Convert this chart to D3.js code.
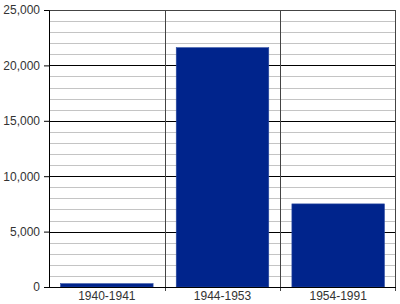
<!DOCTYPE html>
<html>
<head>
<meta charset="utf-8">
<script src="https://cdn.jsdelivr.net/npm/d3@7"></script>
<style>
  body { margin: 0; background: #fff; }
  svg text { font-family: "Liberation Sans", Arial, sans-serif; font-size: 12px; fill: #333; }
</style>
</head>
<body>
<div id="chart"></div>
<script>
var periods = ['1940-1941', '1944-1953', '1954-1991'];
var counts = [300, 21600, 7500];
var yMajorTicks = [0, 5000, 10000, 15000, 20000, 25000];
var yMinorTicks = d3.range(0, 25001, 1000);

var m = { top: 10, right: 4, bottom: 17, left: 49 };
var w = 400, h = 304;
var iw = w - m.left - m.right;
var ih = h - m.top - m.bottom;

var svg = d3.select('#chart').append('svg')
  .attr('width', w)
  .attr('height', h);

var g = svg.append('g')
  .attr('transform', 'translate(' + m.left + ',' + m.top + ')');

var x = d3.scaleBand().domain(periods).range([0, iw]).paddingInner(0.2).paddingOuter(0.1);
var y = d3.scaleLinear().domain([0, 25000]).range([ih, 0]);

// minor grid
g.selectAll('.minor')
  .data(yMinorTicks.filter(function(d) { return d % 5000 !== 0; }))
  .enter().append('line')
  .attr('x1', 0).attr('x2', iw)
  .attr('y1', function(d) { return Math.round(y(d)) + 0.5; })
  .attr('y2', function(d) { return Math.round(y(d)) + 0.5; })
  .attr('stroke', '#c4c4c4');

// major grid
g.selectAll('.major')
  .data(yMajorTicks.slice(1, -1))
  .enter().append('line')
  .attr('x1', 0).attr('x2', iw)
  .attr('y1', function(d) { return Math.round(y(d)) + 0.5; })
  .attr('y2', function(d) { return Math.round(y(d)) + 0.5; })
  .attr('stroke', '#000');

// category separators
var step = x.step();
g.selectAll('.sep')
  .data(periods.slice(1))
  .enter().append('line')
  .attr('x1', function(d) { return Math.round(x(d) - step * x.paddingInner() / 2) + 0.5; })
  .attr('x2', function(d) { return Math.round(x(d) - step * x.paddingInner() / 2) + 0.5; })
  .attr('y1', 0).attr('y2', ih + 4)
  .attr('stroke', '#444');

// frame top & right
g.append('line').attr('x1', 0).attr('x2', iw).attr('y1', 0.5).attr('y2', 0.5).attr('stroke', '#444');
g.append('line').attr('x1', iw - 0.5).attr('x2', iw - 0.5).attr('y1', 0).attr('y2', ih + 4).attr('stroke', '#444');

// bars
g.selectAll('.bar')
  .data(counts)
  .enter().append('rect')
  .attr('x', function(d, i) { return x(periods[i]); })
  .attr('width', x.bandwidth())
  .attr('y', function(d) { return y(d); })
  .attr('height', function(d) { return ih - y(d); })
  .attr('fill', '#00248c')
  .attr('stroke', '#2a4aa0')
  .attr('stroke-width', 0.6);

// y axis
var yAxis = g.append('g')
  .call(d3.axisLeft(y).tickValues(yMajorTicks).tickSize(5).tickPadding(4).tickFormat(d3.format(',')));
yAxis.select('.domain').attr('stroke', '#000');
yAxis.selectAll('line').attr('stroke', '#000');
yAxis.selectAll('text').attr('font-size', 12).attr('fill', '#333');

// x axis
var xAxis = g.append('g')
  .attr('transform', 'translate(0,' + ih + ')')
  .call(d3.axisBottom(x).tickSize(0).tickPadding(4));
xAxis.select('.domain').attr('stroke', '#000').attr('d', 'M0,0.5H' + iw);
xAxis.selectAll('text').attr('font-size', 12).attr('fill', '#333');
</script>
</body>
</html>
